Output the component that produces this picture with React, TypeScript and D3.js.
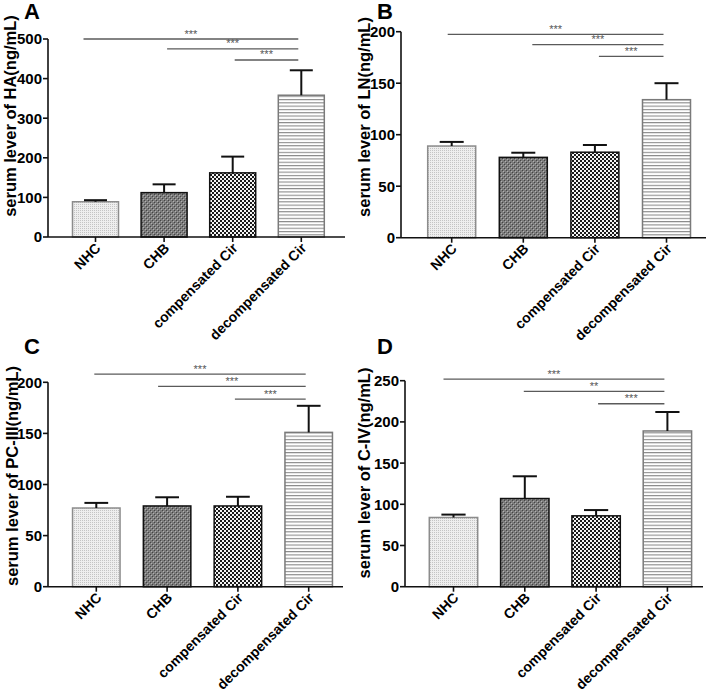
import React from "react";
import * as d3 from "d3";

const categories = ["NHC", "CHB", "compensated Cir", "decompensated Cir"];

const haMeans = [89, 112, 162, 358];
const haSem = [4, 21, 41, 63];
const lnMeans = [89, 78, 83, 134];
const lnSem = [4, 4.5, 7, 16];
const pcMeans = [77, 79, 79, 151];
const pcSem = [5, 8.5, 9, 26];
const civMeans = [84, 107, 86, 189];
const civSem = [3.5, 27, 7, 23];

const haTicks = [0, 100, 200, 300, 400, 500];
const lnTicks = [0, 50, 100, 150, 200];
const pcTicks = [0, 50, 100, 150, 200];
const civTicks = [0, 50, 100, 150, 200, 250];

const sigABC = [
  { from: 0, to: 3, label: "***" },
  { from: 1, to: 3, label: "***" },
  { from: 2, to: 3, label: "***" },
];
const sigD = [
  { from: 0, to: 3, label: "***" },
  { from: 1, to: 3, label: "**" },
  { from: 2, to: 3, label: "***" },
];
const haSigY = [500, 475, 447];
const lnSigY = [197.5, 187.5, 176];
const pcSigY = [208, 196, 183.5];
const civSigY = [252, 237, 222];

const FONT = "'Liberation Sans', Arial, Helvetica, sans-serif";
const fills = ["url(#pNHC)", "url(#pCHB)", "url(#pComp)", "url(#pDec)"];
const strokes = ["#8c8c8c", "#111", "#111", "#7a7a7a"];

type PanelProps = {
  letter: string;
  ylabel: string;
  means: number[];
  sems: number[];
  ticks: number[];
  sigs: { from: number; to: number; label: string }[];
  sigY: number[];
  axisX: number;
  axisRight: number;
  y0: number;
  yTop: number;
  c0: number;
  step: number;
  bw: number;
  letterX: number;
  letterY: number;
  labelX: number;
  labelY: number;
  sigStart: number[];
};

function Panel(p: PanelProps) {
  const maxT = p.ticks[p.ticks.length - 1];
  const y = d3.scaleLinear().domain([0, maxT]).range([p.y0, p.yTop]);
  const start = p.c0 - p.step / 2;
  const x = d3
    .scaleBand<string>()
    .domain(categories)
    .range([start, start + p.step * categories.length])
    .paddingInner(1 - p.bw / p.step)
    .paddingOuter((1 - p.bw / p.step) / 2);
  const cx = (c: string) => (x(c) as number) + x.bandwidth() / 2;
  const capW = x.bandwidth() * 0.5;
  return (
    <g>
      <text x={p.letterX} y={p.letterY} fontFamily={FONT} fontWeight="bold" fontSize={22} textAnchor="middle">
        {p.letter}
      </text>
      <text
        transform={`translate(${p.labelX},${p.labelY}) rotate(-90)`}
        fontFamily={FONT}
        fontWeight="bold"
        fontSize={16.5}
        textAnchor="middle"
      >
        {p.ylabel}
      </text>
      {categories.map((c, i) => {
        const top = y(p.means[i]);
        const et = y(p.means[i] + p.sems[i]);
        return (
          <g key={c}>
            <rect
              x={x(c)}
              y={top}
              width={x.bandwidth()}
              height={p.y0 - top}
              fill={fills[i]}
              stroke={strokes[i]}
              strokeWidth={1.5}
            />
            <line x1={cx(c)} x2={cx(c)} y1={top} y2={et} stroke="#111" strokeWidth={2} />
            <line x1={cx(c) - capW / 2} x2={cx(c) + capW / 2} y1={et} y2={et} stroke="#111" strokeWidth={2} />
          </g>
        );
      })}
      <line x1={p.axisX} x2={p.axisX} y1={y(maxT)} y2={p.y0} stroke="#111" strokeWidth={1.6} />
      <line x1={p.axisX} x2={p.axisRight} y1={p.y0} y2={p.y0} stroke="#111" strokeWidth={1.6} />
      {p.ticks.map((t) => (
        <g key={t}>
          <line x1={p.axisX - 5} x2={p.axisX} y1={y(t)} y2={y(t)} stroke="#111" strokeWidth={1.6} />
          <text
            x={p.axisX - 6}
            y={y(t)}
            dy="0.36em"
            textAnchor="end"
            fontFamily={FONT}
            fontWeight="bold"
            fontSize={15}
          >
            {t}
          </text>
        </g>
      ))}
      {categories.map((c) => (
        <g key={c}>
          <line x1={cx(c)} x2={cx(c)} y1={p.y0} y2={p.y0 + 5} stroke="#111" strokeWidth={1.6} />
          <text
            transform={`translate(${cx(c) + 6},${p.y0 + 12}) rotate(-45)`}
            textAnchor="end"
            fontFamily={FONT}
            fontWeight="bold"
            fontSize={14}
          >
            {c}
          </text>
        </g>
      ))}
      {p.sigs.map((s, i) => {
        const xa = cx(categories[s.from]) + p.sigStart[i];
        const xb = cx(categories[s.to]) - 3;
        const yy = y(p.sigY[i]);
        return (
          <g key={i}>
            <line x1={xa} x2={xb} y1={yy} y2={yy} stroke="#5a5a5a" strokeWidth={1.3} />
            <text
              x={(xa + xb) / 2}
              y={yy - 1.5}
              textAnchor="middle"
              fontFamily={FONT}
              fontSize={11}
              fill="#555"
            >
              {s.label}
            </text>
          </g>
        );
      })}
    </g>
  );
}

export default function App() {
  return (
    <svg
      width={709}
      height={698}
      style={{ position: "absolute", left: 0, top: 0, background: "#fff" }}
    >
      <defs>
        <pattern id="pNHC" width={2} height={2} patternUnits="userSpaceOnUse">
          <rect width={2} height={2} fill="#eeeeee" />
          <rect width={1} height={1} fill="#c4c4c4" />
        </pattern>
        <pattern id="pCHB" width={4} height={4} patternUnits="userSpaceOnUse">
          <rect width={4} height={4} fill="#7c7c7c" />
          <rect x={0} y={0} width={1} height={1} fill="#444" />
          <rect x={2} y={2} width={1} height={1} fill="#444" />
          <rect x={1} y={1} width={1} height={1} fill="#b0b0b0" />
          <rect x={3} y={3} width={1} height={1} fill="#b0b0b0" />
        </pattern>
        <pattern id="pComp" width={4} height={4} patternUnits="userSpaceOnUse">
          <rect width={4} height={4} fill="#f4f4f4" />
          <rect x={0} y={0} width={2} height={2} fill="#1a1a1a" />
          <rect x={2} y={2} width={2} height={2} fill="#1a1a1a" />
        </pattern>
        <pattern id="pDec" width={4} height={3.3} patternUnits="userSpaceOnUse">
          <rect width={4} height={3.3} fill="#ffffff" />
          <rect y={0} width={4} height={1.1} fill="#8a8a8a" />
        </pattern>
      </defs>
      <Panel
        letter="A"
        ylabel="serum lever of HA(ng/mL)"
        means={haMeans}
        sems={haSem}
        ticks={haTicks}
        sigs={sigABC}
        sigY={haSigY}
        sigStart={[-12, 3, 2]}
        axisX={48}
        axisRight={345}
        y0={237}
        yTop={39}
        c0={95.5}
        step={68.6}
        bw={46}
        letterX={32}
        letterY={19}
        labelX={16}
        labelY={116}
      />
      <Panel
        letter="B"
        ylabel="serum lever of LN(ng/mL)"
        means={lnMeans}
        sems={lnSem}
        ticks={lnTicks}
        sigs={sigABC}
        sigY={lnSigY}
        sigStart={[-4, 9, 4]}
        axisX={401}
        axisRight={706}
        y0={237.7}
        yTop={31.7}
        c0={451.7}
        step={71.6}
        bw={48}
        letterX={385}
        letterY={19}
        labelX={370}
        labelY={117}
      />
      <Panel
        letter="C"
        ylabel="serum lever of PC-III(ng/mL)"
        means={pcMeans}
        sems={pcSem}
        ticks={pcTicks}
        sigs={sigABC}
        sigY={pcSigY}
        sigStart={[-2, -9, -3]}
        axisX={48}
        axisRight={343}
        y0={586.7}
        yTop={382.3}
        c0={96.3}
        step={70.8}
        bw={47.5}
        letterX={32}
        letterY={354}
        labelX={18}
        labelY={476}
      />
      <Panel
        letter="D"
        ylabel="serum lever of C-IV(ng/mL)"
        means={civMeans}
        sems={civSem}
        ticks={civTicks}
        sigs={sigD}
        sigY={civSigY}
        sigStart={[-10, -1, 2]}
        axisX={405}
        axisRight={703}
        y0={586.7}
        yTop={380.7}
        c0={453.5}
        step={71.3}
        bw={48.4}
        letterX={385}
        letterY={354}
        labelX={370}
        labelY={473}
      />
    </svg>
  );
}
